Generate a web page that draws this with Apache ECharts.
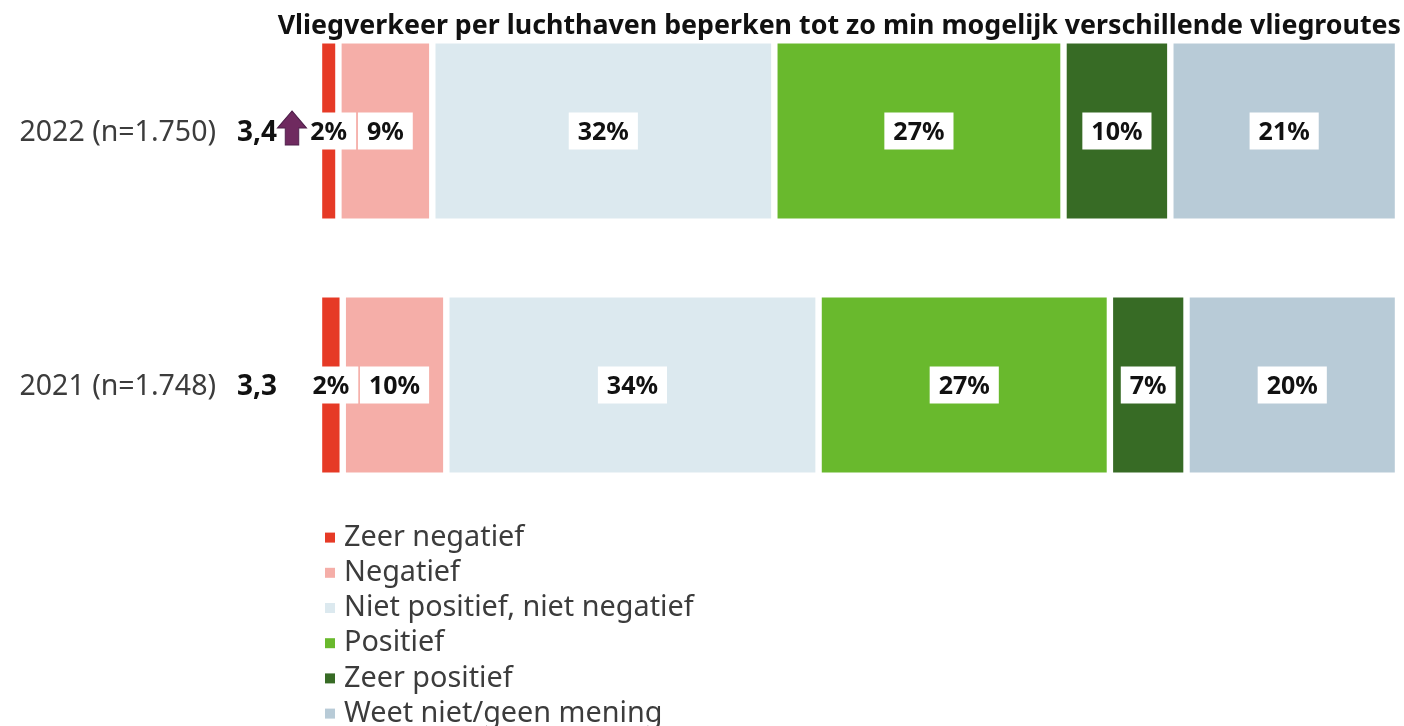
<!DOCTYPE html>
<html>
<head>
<meta charset="utf-8">
<script src="https://cdn.jsdelivr.net/npm/echarts@6/dist/echarts.min.js"></script>
<style>
    html, body { margin: 0; padding: 0; background: #fff; overflow: hidden; }
    #main { width: 1404px; height: 726px; }
</style>
</head>
<body>
<div id="main"></div>
<script>
const TITLE = 'Vliegverkeer per luchthaven beperken tot zo min mogelijk verschillende vliegroutes';
const years = ['2022 (n=1.750)', '2021 (n=1.748)'];
const scores = ['3,4', '3,3'];
const trendUp = [true, false];

const answers = ['Zeer negatief', 'Negatief', 'Niet positief, niet negatief', 'Positief', 'Zeer positief', 'Weet niet/geen mening'];
const colors = ['#e63a26', '#f5aea8', '#dce9ef', '#69b92d', '#376b25', '#b8cbd7'];

// bar lengths, labels as printed in it
const zeerNegatief = [1.8, 2.2];
const negatief = [8.7, 9.6];
const neutraal = [31.7, 34.5];
const positief = [26.8, 27.0];
const zeerPositief = [9.9, 7.1];
const geenMening = [21.1, 19.6];
const values = [zeerNegatief, negatief, neutraal, positief, zeerPositief, geenMening];

const zeerNegatiefLabels = ['2%', '2%'];
const negatiefLabels = ['9%', '10%'];
const neutraalLabels = ['32%', '34%'];
const positiefLabels = ['27%', '27%'];
const zeerPositiefLabels = ['10%', '7%'];
const geenMeningLabels = ['21%', '20%'];
const labels = [zeerNegatiefLabels, negatiefLabels, neutraalLabels, positiefLabels, zeerPositiefLabels, geenMeningLabels];

const FONT = '"Noto Sans", sans-serif';
const ARROW = 'path://M15 0 L30 17 L22 17 L22 34 L8 34 L8 17 L0 17 Z';

// rich text so the figures can sit a little low in their white box
function lowText(fontSize, color, weight, top) {
    return { t: { fontFamily: FONT, fontSize: fontSize, color: color, fontWeight: weight, padding: [top, 0, 0, 0] } };
}

var series = answers.map(function (name, i) {
    return {
        name: name,
        type: 'bar',
        stack: 'totaal',
        barWidth: 181.5,
        data: values[i],
        itemStyle: { color: colors[i], borderColor: '#fff', borderWidth: 3.2 },
        label: {
            show: true,
            position: 'inside',
            backgroundColor: '#fff',
            padding: [4, 9, 4, 9],
            rich: lowText(25, '#111', 'bold', 4),
            formatter: function (p) { return '{t|' + labels[i][p.dataIndex] + '}'; }
        },
        emphasis: { disabled: true }
    };
});

// trend arrow next to the score
series.push({
    type: 'scatter',
    data: trendUp.map(function (up, i) { return up ? [0, i] : null; }).filter(Boolean),
    symbol: ARROW,
    symbolSize: [29, 34],
    symbolOffset: [-27, -3],
    clip: false,
    z: 10,
    silent: true,
    itemStyle: { color: '#6f2a5f', borderColor: '#4f1f4b', borderWidth: 1, opacity: 1 }
});

var myChart = echarts.init(document.getElementById('main'), null, { renderer: 'canvas' });

myChart.setOption({
    animation: false,
    title: {
        text: TITLE,
        right: 3,
        top: 13,
        padding: 0,
        textStyle: { fontFamily: FONT, fontWeight: 'bold', fontSize: 26.8, color: '#111' }
    },
    grid: { left: 319, width: 1079, top: 4, height: 508 },
    xAxis: { type: 'value', min: 0, max: 100, show: false },
    yAxis: [
        {
            type: 'category',
            inverse: true,
            data: scores,
            axisLine: { show: false },
            axisTick: { show: false },
            axisLabel: {
                margin: 42,
                rich: lowText(28, '#111', 'bold', 4),
                formatter: function (v) { return '{t|' + v + '}'; }
            }
        },
        {
            type: 'category',
            inverse: true,
            position: 'left',
            data: years,
            axisLine: { show: false },
            axisTick: { show: false },
            axisLabel: {
                margin: 103,
                rich: lowText(28.5, '#3c3c3c', 'normal', 4),
                formatter: function (v) { return '{t|' + v + '}'; }
            }
        }
    ],
    legend: {
        orient: 'vertical',
        left: 325,
        top: 520,
        height: 400,
        padding: 0,
        data: answers,
        icon: 'rect',
        itemWidth: 10,
        itemHeight: 10,
        itemGap: 0,
        itemStyle: { borderWidth: 0 },
        selectedMode: false,
        textStyle: { fontFamily: FONT, fontSize: 28.8, color: '#3c3c3c', lineHeight: 35.2, padding: [0, 0, 0, 4] }
    },
    series: series
});
</script>
</body>
</html>
